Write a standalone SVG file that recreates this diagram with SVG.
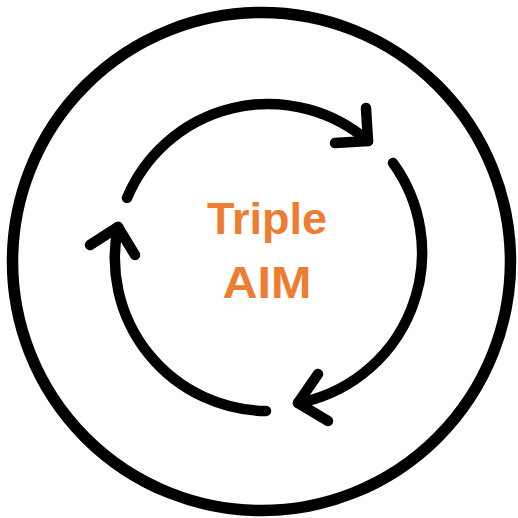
<svg xmlns="http://www.w3.org/2000/svg" width="518" height="518" viewBox="0 0 518 518">
  <style>
    .ring { fill: none; stroke: #000; stroke-width: 11.5; }
    .arc { fill: none; stroke: #000; stroke-width: 10.5; stroke-linecap: round; stroke-linejoin: round; }
    .label { font-family: "Liberation Sans", Arial, sans-serif; font-weight: bold; font-size: 45px; fill: #ED7D31; text-anchor: middle; }
  </style>
  <rect width="518" height="518" fill="#fff"/>
  <g id="outer-circle">
    <circle class="ring" cx="261.5" cy="261.5" r="249"/>
  </g>
  <g id="connectors">
    <path class="arc" d="M127,198 A153,153 0 0,1 368,141"/>
    <polyline class="arc" points="335,143 368,141 366,108"/>
    <path class="arc" d="M393,163 A153,153 0 0,1 298,403"/>
    <polyline class="arc" points="318,374 298,403 328,421"/>
    <path class="arc" d="M266,411 A153,153 0 0,1 118,227"/>
    <polyline class="arc" points="90,245 118,227 135,255"/>
  </g>
  <g id="center-label">
    <text class="label" x="267" y="233.5" textLength="120" lengthAdjust="spacingAndGlyphs">Triple</text>
    <text class="label" x="267" y="297.5" textLength="89" lengthAdjust="spacingAndGlyphs">AIM</text>
  </g>
</svg>
